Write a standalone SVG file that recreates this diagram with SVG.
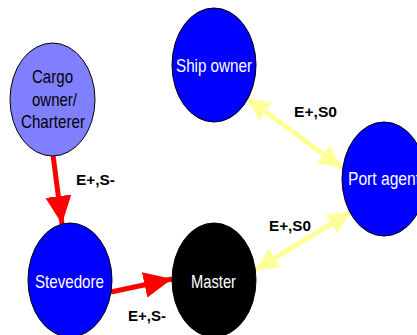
<svg xmlns="http://www.w3.org/2000/svg" width="417" height="335" viewBox="0 0 417 335">
<style>
.node{stroke:#000;stroke-width:1}
.nt{font-family:"Liberation Sans",Arial,sans-serif;font-size:19px;text-anchor:middle}
.lbl{font-family:"Liberation Sans",Arial,sans-serif;font-size:15.5px;font-weight:bold;fill:#000}
.red{stroke:#FF0000;stroke-width:5;fill:none}
.yel{stroke:#FFFF99;stroke-width:5;fill:none}
</style>
<defs>
<marker id="rh" markerUnits="userSpaceOnUse" markerWidth="30" markerHeight="26" refX="28" refY="13" orient="auto" viewBox="0 0 30 26">
<polygon points="0,0 28,13 0,26" fill="#FF0000"/>
</marker>
<marker id="yh" markerUnits="userSpaceOnUse" markerWidth="24" markerHeight="22" refX="23" refY="11" orient="auto-start-reverse" viewBox="0 0 24 22">
<polygon points="0,0 23,11 0,22" fill="#FFFF99"/>
</marker>
</defs>
<rect width="417" height="335" fill="#fff"/>
<g id="connectors">
<line class="red" x1="53" y1="155" x2="62" y2="224" marker-end="url(#rh)"/>
<line class="red" x1="111" y1="292" x2="172" y2="279" marker-end="url(#rh)"/>
<line class="yel" x1="247" y1="98" x2="342" y2="168" marker-start="url(#yh)" marker-end="url(#yh)"/>
<line class="yel" x1="255" y1="270" x2="351" y2="212" marker-start="url(#yh)" marker-end="url(#yh)"/>
</g>
<g id="labels">
<text class="lbl" x="294" y="117" textLength="43" lengthAdjust="spacingAndGlyphs">E+,S0</text>
<text class="lbl" x="269" y="231" textLength="42" lengthAdjust="spacingAndGlyphs">E+,S0</text>
<text class="lbl" x="76" y="185" textLength="39" lengthAdjust="spacingAndGlyphs">E+,S-</text>
<text class="lbl" x="128" y="321" textLength="38" lengthAdjust="spacingAndGlyphs">E+,S-</text>
</g>
<g id="cargo-owner">
<ellipse class="node" cx="52.5" cy="99.5" rx="42.5" ry="56.5" fill="#8080FF"/>
<text class="nt" x="52.5" y="83" fill="#000" textLength="41" lengthAdjust="spacingAndGlyphs">Cargo</text>
<text class="nt" x="54.5" y="106" fill="#000" textLength="45" lengthAdjust="spacingAndGlyphs">owner/</text>
<text class="nt" x="53" y="128" fill="#000" textLength="64" lengthAdjust="spacingAndGlyphs">Charterer</text>
</g>
<g id="ship-owner">
<ellipse class="node" cx="214" cy="65" rx="42" ry="57" fill="#0000FF"/>
<text class="nt" x="214" y="72" fill="#fff" textLength="76" lengthAdjust="spacingAndGlyphs">Ship owner</text>
</g>
<g id="port-agent">
<ellipse class="node" cx="384" cy="179" rx="42" ry="57" fill="#0000FF"/>
<text class="nt" x="384" y="185" fill="#fff" textLength="72" lengthAdjust="spacingAndGlyphs">Port agent</text>
</g>
<g id="stevedore">
<ellipse class="node" cx="70" cy="280" rx="42" ry="57" fill="#0000FF"/>
<text class="nt" x="69.5" y="288" fill="#fff" textLength="69" lengthAdjust="spacingAndGlyphs">Stevedore</text>
</g>
<g id="master">
<ellipse class="node" cx="214" cy="280" rx="42" ry="57" fill="#000"/>
<text class="nt" x="213.5" y="288" fill="#fff" textLength="45" lengthAdjust="spacingAndGlyphs">Master</text>
</g>
</svg>
